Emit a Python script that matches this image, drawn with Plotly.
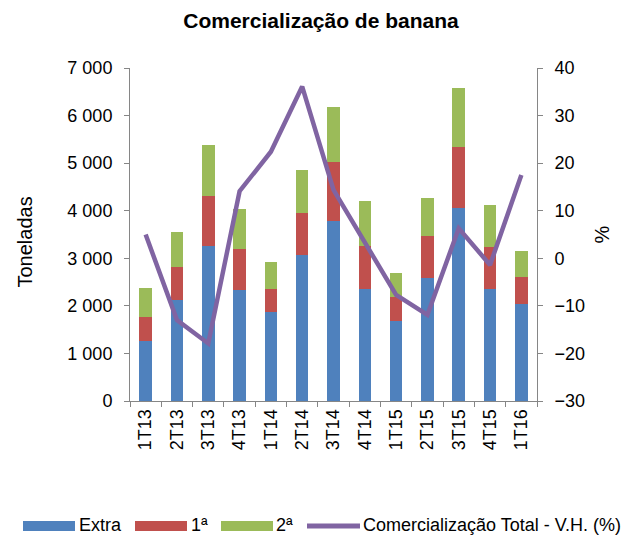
import plotly.graph_objects as go

categories = ["1T13", "2T13", "3T13", "4T13", "1T14", "2T14", "3T14",
              "4T14", "1T15", "2T15", "3T15", "4T15", "1T16"]
extra = [1260, 2120, 3265, 2330, 1880, 3070, 3785, 2345, 1675, 2595, 4050, 2345, 2035]
primeira = [510, 690, 1045, 865, 480, 880, 1245, 920, 520, 880, 1285, 900, 580]
segunda = [600, 740, 1080, 840, 555, 900, 1150, 935, 500, 790, 1240, 885, 545]
vh_total = [5.0, -13.0, -17.9, 14.1, 22.4, 36.1, 14.4, 3.5, -7.7, -11.9, 6.3, -1.4, 17.5]

left_ticks = [0, 1000, 2000, 3000, 4000, 5000, 6000, 7000]
left_labels = ["0", "1 000", "2 000", "3 000", "4 000", "5 000", "6 000", "7 000"]
right_ticks = [-30, -20, -10, 0, 10, 20, 30, 40]

series_names = ["Extra", "1ª", "2ª"]
line_name = "Comercialização Total - V.H. (%)"

C_BLUE = "#4F81BD"
C_RED = "#C0504D"
C_GREEN = "#9BBB59"
C_PURPLE = "#8064A2"
AXIS = "#868686"
FONT = "Liberation Sans, Arial, sans-serif"

W, H = 635, 535
OFF = 8  # page body margin: figure origin sits at (8, 8) on screen
# plot area on screen: x 130..537, y 68..401
ML = 130 - OFF
MT = 68 - OFF
MR = W - (537 - OFF)
MB = H - (401 - OFF)
PW, PH = W - ML - MR, H - MT - MB


def px(x):
    return (x - OFF - ML) / PW


def py(y):
    return (H - MB - (y - OFF)) / PH


fig = go.Figure()
bar_colors = [C_BLUE, C_RED, C_GREEN]
for name, vals, col in zip(series_names, [extra, primeira, segunda], bar_colors):
    fig.add_trace(go.Bar(x=categories, y=vals, name=name,
                         marker=dict(color=col, line=dict(width=0)),
                         showlegend=False, yaxis="y"))
fig.add_trace(go.Scatter(x=categories, y=vh_total, mode="lines", name=line_name,
                         line=dict(color=C_PURPLE, width=4.5), yaxis="y2", showlegend=False))

# legend drawn as shapes + text (one row across the full width, as in the original)
shapes = []
annotations = []
legend_y = 526.0
text_y = 524.5
swatches = [(23, 75, 78), (135, 187, 190), (221, 273, 275)]
for (x0, x1, tx), name, col in zip(swatches, series_names, bar_colors):
    shapes.append(dict(type="rect", xref="paper", yref="paper",
                       x0=px(x0), x1=px(x1), y0=py(legend_y - 5), y1=py(legend_y + 5),
                       fillcolor=col, line=dict(width=0), layer="above"))
    annotations.append(dict(text=name, xref="paper", yref="paper", x=px(tx), y=py(text_y),
                            xanchor="left", yanchor="middle", showarrow=False,
                            font=dict(size=18), borderpad=0))
shapes.append(dict(type="line", xref="paper", yref="paper",
                   x0=px(307), x1=px(360), y0=py(legend_y), y1=py(legend_y),
                   line=dict(color=C_PURPLE, width=5)))
annotations.append(dict(text=line_name, xref="paper", yref="paper", x=px(362), y=py(text_y),
                        xanchor="left", yanchor="middle", showarrow=False, font=dict(size=18),
                        borderpad=0))

annotations.append(dict(text="Toneladas", xref="paper", yref="paper", x=px(24), y=py(242.5),
                        showarrow=False, textangle=-90, font=dict(size=20),
                        xanchor="center", yanchor="middle"))
annotations.append(dict(text="%", xref="paper", yref="paper", x=px(601.5), y=py(235),
                        showarrow=False, textangle=-90, font=dict(size=20),
                        xanchor="center", yanchor="middle"))

fig.update_layout(
    width=W, height=H,
    margin=dict(l=ML, r=MR, t=MT, b=MB, autoexpand=False),
    paper_bgcolor="white", plot_bgcolor="white",
    barmode="stack", bargap=0.6,
    showlegend=False,
    font=dict(family=FONT, size=18, color="black"),
    title=dict(text="<b>Comercialização de banana</b>", x=(321 - OFF) / W, xanchor="center",
               y=1 - (21 - OFF) / H, yanchor="middle", font=dict(size=21, family=FONT)),
    xaxis=dict(type="category", tickangle=-90, showline=True, linecolor=AXIS, linewidth=1,
               ticks="outside", tickson="boundaries", ticklen=5, tickcolor=AXIS,
               showgrid=False, tickfont=dict(size=18), automargin=False),
    yaxis=dict(range=[0, 7000], tickvals=left_ticks, ticktext=left_labels, showline=True,
               linecolor=AXIS, linewidth=1, ticks="outside", ticklen=5, tickcolor=AXIS,
               showgrid=False, zeroline=False, tickfont=dict(size=18), automargin=False,
               ticklabelstandoff=8),
    yaxis2=dict(range=[-30, 40], tickvals=right_ticks, overlaying="y", side="right",
                showline=True, linecolor=AXIS, linewidth=1, ticks="outside", ticklen=5,
                tickcolor=AXIS, showgrid=False, zeroline=False, tickfont=dict(size=18),
                automargin=False, ticklabelstandoff=8),
    shapes=shapes,
    annotations=annotations,
)

fig.write_html("out.html")
